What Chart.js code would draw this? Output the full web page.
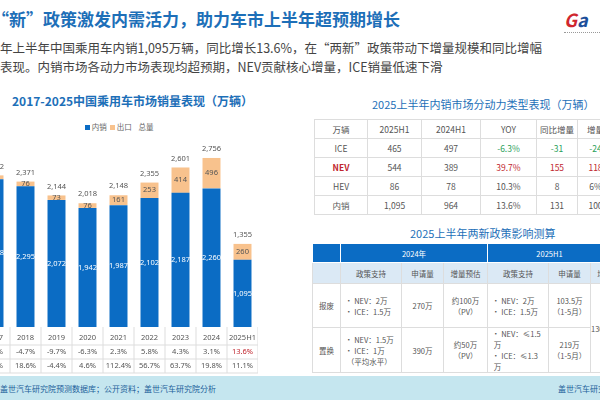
<!DOCTYPE html>
<html><head><meta charset="utf-8">
<script src="https://cdn.jsdelivr.net/npm/chart.js@4.4.0/dist/chart.umd.min.js"></script>
<style>
body{margin:0;width:600px;height:400px;overflow:hidden;background:#fff;font-family:"Noto Sans CJK SC","Noto Sans",sans-serif;position:relative}
.abs{position:absolute;white-space:nowrap}
#c{position:absolute;left:-21px;top:90px}
table{border-collapse:collapse;position:absolute;font-size:8.5px;color:#555;text-align:center}
td{border:1px solid #ddd;padding:0}
</style></head><body>
<div class="abs" style="left:-8px;top:6px;font-size:17px;font-weight:bold;color:#1d6fb8">“新”政策激发内需活力，助力车市上半年超预期增长</div>
<div class="abs" style="left:0;top:38px;font-size:12.5px;color:#444;line-height:19px">年上半年中国乘用车内销1,095万辆，同比增长13.6%，在“两新”政策带动下增量规模和同比增幅<br>表现。内销市场各动力市场表现均超预期，NEV贡献核心增量，ICE销量低速下滑</div>
<div class="abs" style="left:564px;top:6px;font-size:18px;font-weight:bold;font-style:italic;color:#1d4f9a"><span style="color:#d0262e">G</span>a</div>
<div class="abs" style="left:564px;top:32px;width:40px;border-top:1px dotted #999"></div>
<div class="abs" style="left:12px;top:92px;font-size:12px;font-weight:bold;color:#1d6fb8">2017-2025中国乘用车市场销量表现（万辆）</div>
<div class="abs" style="left:85px;top:121px;font-size:7.5px;color:#666"><span style="display:inline-block;width:5px;height:5px;background:#0b6cc4"></span> 内销 &nbsp;<span style="display:inline-block;width:5px;height:5px;background:#f8c28d"></span> 出口 &nbsp;&nbsp; 总量</div>
<canvas id="c" width="279" height="290"></canvas>
<div class="abs" style="left:0;top:376px;width:600px;height:24px;background:#c5e6ef"></div>
<div class="abs" style="left:0;top:383px;font-size:8px;color:#1d5f9a">盖世汽车研究院预测数据库；公开资料；盖世汽车研究院分析</div>
<div class="abs" style="left:558px;top:383px;font-size:8px;color:#1d5f9a">盖世汽车研究院</div>

<div class="abs" style="left:372px;top:96px;font-size:11px;color:#1d6fb8">2025上半年内销市场分动力类型表现（万辆）</div>
<table style="left:314px;top:119px;width:300px">
<tr style="height:19px"><td style="width:52px">万辆</td><td style="width:53px">2025H1</td><td style="width:58px">2024H1</td><td style="width:55px">YOY</td><td style="width:40px">同比增量</td><td>增量</td></tr>
<tr style="height:19px"><td>ICE</td><td>465</td><td>497</td><td style="color:#2aa05a">-6.3%</td><td style="color:#2aa05a">-31</td><td style="color:#2aa05a">-24</td></tr>
<tr style="height:19px"><td style="color:#c0262e;font-weight:bold">NEV</td><td>544</td><td>389</td><td style="color:#c0262e">39.7%</td><td style="color:#c0262e">155</td><td style="color:#c0262e">118</td></tr>
<tr style="height:19px"><td>HEV</td><td>86</td><td>78</td><td>10.3%</td><td>8</td><td>6%</td></tr>
<tr style="height:19px"><td>内销</td><td>1,095</td><td>964</td><td>13.6%</td><td>131</td><td>100</td></tr>
</table>
<div class="abs" style="left:410px;top:225px;font-size:11px;color:#1d6fb8">2025上半年两新政策影响测算</div>
<table style="left:312px;top:243px;width:300px;font-size:7.5px">
<tr style="height:19px;background:#0b6cc4;color:#fff"><td style="width:27px;border-color:#fff"></td><td colspan="3" style="border-color:#fff">2024年</td><td colspan="3" style="border-color:#fff">2025H1</td></tr>
<tr style="height:21px;background:#dbe9f5"><td></td><td style="width:60px">政策支持</td><td style="width:41px">申请量</td><td style="width:43px">增量预估</td><td style="width:60px">政策支持</td><td style="width:41px">申请量</td><td>增</td></tr>
<tr style="height:44px"><td>报废</td><td style="text-align:left;padding-left:4px">• NEV：2万<br>• ICE：1.5万</td><td>270万</td><td>约100万<br>（PV）</td><td style="text-align:left;padding-left:4px">• NEV：2万<br>• ICE：1.5万</td><td>103.5万<br>（1-5月）</td><td rowspan="2" style="text-align:left">130</td></tr>
<tr style="height:41px"><td>置换</td><td style="text-align:left;padding-left:4px">• NEV：1.5万<br>• ICE：1万<br>&nbsp;（平均水平）</td><td>390万</td><td>约50万<br>（PV）</td><td style="text-align:left;padding-left:4px">• NEV：≤1.5<br>&nbsp;万<br>• ICE：≤1.3<br>&nbsp;万</td><td>219万<br>（1-5月）</td></tr>
</table>
<script>
const years=['2017','2018','2019','2020','2021','2022','2023','2024','2025H1'];
const domestic=[2408,2295,2072,1942,1987,2102,2187,2260,1095];
const exportV=[64,76,73,76,161,253,414,496,260];
const totals=['2,472','2,371','2,144','2,018','2,148','2,355','2,601','2,756','1,355'];
const domYoY=['1.4%','-4.7%','-9.7%','-6.3%','2.3%','5.8%','4.3%','3.1%','13.6%'];
const expYoY=['7.6%','18.6%','-4.4%','4.6%','112.4%','56.7%','63.7%','19.8%','11.1%'];
const fmt=v=>v.toLocaleString('en-US');
const labels={id:'labels',afterDatasetsDraw(ch){
 const c=ch.ctx,x=ch.scales.x,y=ch.scales.y,a=ch.chartArea;
 c.save();c.textAlign='center';c.textBaseline='middle';
 c.font='7.5px "Noto Sans"';
 years.forEach((yr,i)=>{
  const px=x.getPixelForValue(i);
  c.fillStyle='#fff';c.fillText(fmt(domestic[i]),px,y.getPixelForValue(domestic[i]/2));
  c.fillStyle='#555';c.fillText(fmt(exportV[i]),px,y.getPixelForValue(domestic[i]+exportV[i]/2));
  c.fillText(totals[i],px,y.getPixelForValue(domestic[i]+exportV[i])-9);
  c.fillStyle='#555';c.fillText(yr,px,a.bottom+11);
  c.fillStyle=i==8?'#c0262e':'#555';c.fillText(domYoY[i],px,a.bottom+25);
  c.fillStyle='#555';c.fillText(expYoY[i],px,a.bottom+39);
 });
 c.strokeStyle='#ddd';c.lineWidth=1;
 for(let i=0;i<=years.length;i++){const px=x.getPixelForValue(i-0.5);c.beginPath();c.moveTo(px,a.bottom);c.lineTo(px,a.bottom+46);c.stroke();}
 [18,32,46].forEach(d=>{c.beginPath();c.moveTo(a.left,a.bottom+d);c.lineTo(a.right,a.bottom+d);c.stroke();});
 c.restore();}};
new Chart(document.getElementById('c'),{type:'bar',
 data:{labels:years,datasets:[
  {label:'内销',data:domestic,backgroundColor:'#0b6cc4',stack:'s'},
  {label:'出口',data:exportV,backgroundColor:'#f8c28d',stack:'s'}]},
 options:{responsive:false,animation:false,layout:{padding:{top:53,bottom:53,left:0,right:0}},
  datasets:{bar:{categoryPercentage:1,barPercentage:0.58}},
  plugins:{legend:{display:false},tooltip:{enabled:false}},
  scales:{x:{stacked:true,display:false},y:{stacked:true,display:false,min:0,max:3000}}},
 plugins:[labels]});
</script>
</body></html>
